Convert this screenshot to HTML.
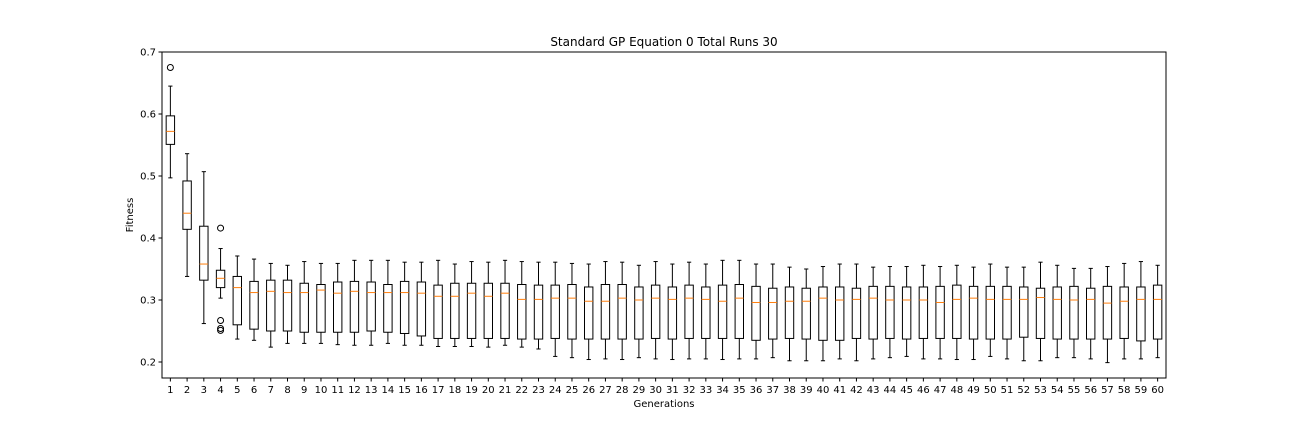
<!DOCTYPE html>
<html><head><meta charset="utf-8"><style>
body{margin:0;background:#fff;}
svg text{font-family:"DejaVu Sans","Liberation Sans",sans-serif;fill:#000;}
</style></head><body>
<svg id="chart" width="1296" height="432" viewBox="0 0 1296 432" xmlns="http://www.w3.org/2000/svg">
<rect width="1296" height="432" fill="#fff"/>
<text x="664" y="46" font-size="12" text-anchor="middle">Standard GP Equation 0 Total Runs 30</text>
<text transform="translate(133,215) rotate(-90)" font-size="10" text-anchor="middle">Fitness</text>
<text x="664" y="407" font-size="10" text-anchor="middle">Generations</text>
<g id="marks"></g>
<g id="axes"></g>
</svg>
<script>
const whiskerHigh=[0.645,0.536,0.507,0.383,0.371,0.366,0.359,0.356,0.362,0.359,0.359,0.364,0.364,0.364,0.361,0.361,0.364,0.358,0.362,0.361,0.364,0.362,0.361,0.361,0.359,0.358,0.362,0.361,0.356,0.362,0.358,0.361,0.358,0.364,0.364,0.358,0.358,0.353,0.350,0.354,0.358,0.358,0.353,0.354,0.354,0.356,0.354,0.356,0.353,0.358,0.353,0.353,0.361,0.356,0.351,0.351,0.354,0.359,0.362,0.356];
const q3Values=[0.597,0.492,0.419,0.348,0.338,0.330,0.332,0.332,0.327,0.325,0.329,0.330,0.329,0.325,0.330,0.329,0.324,0.327,0.327,0.327,0.327,0.325,0.324,0.324,0.325,0.321,0.325,0.325,0.321,0.324,0.321,0.324,0.321,0.324,0.325,0.322,0.319,0.321,0.319,0.321,0.321,0.319,0.322,0.322,0.321,0.321,0.322,0.324,0.322,0.322,0.322,0.321,0.319,0.321,0.322,0.319,0.322,0.321,0.321,0.324];
const medianValues=[0.572,0.440,0.358,0.335,0.320,0.312,0.314,0.312,0.312,0.316,0.311,0.314,0.312,0.312,0.312,0.311,0.306,0.306,0.311,0.306,0.311,0.301,0.301,0.303,0.303,0.298,0.298,0.303,0.300,0.303,0.301,0.303,0.301,0.298,0.303,0.296,0.296,0.298,0.298,0.303,0.300,0.301,0.303,0.300,0.300,0.300,0.296,0.301,0.303,0.301,0.301,0.301,0.304,0.301,0.300,0.301,0.295,0.298,0.301,0.301];
const q1Values=[0.551,0.414,0.332,0.320,0.260,0.253,0.250,0.250,0.248,0.248,0.248,0.248,0.250,0.248,0.246,0.242,0.238,0.238,0.238,0.238,0.238,0.237,0.237,0.238,0.237,0.237,0.237,0.237,0.237,0.238,0.237,0.238,0.238,0.238,0.238,0.235,0.237,0.238,0.237,0.235,0.235,0.238,0.237,0.238,0.237,0.238,0.238,0.238,0.237,0.237,0.237,0.240,0.238,0.237,0.237,0.237,0.237,0.238,0.234,0.237];
const whiskerLow=[0.497,0.338,0.262,0.303,0.237,0.235,0.224,0.230,0.230,0.230,0.228,0.227,0.227,0.230,0.227,0.227,0.225,0.225,0.225,0.224,0.227,0.224,0.221,0.209,0.207,0.204,0.205,0.204,0.207,0.205,0.204,0.205,0.205,0.204,0.205,0.205,0.207,0.202,0.202,0.202,0.205,0.202,0.205,0.207,0.209,0.205,0.205,0.204,0.204,0.209,0.205,0.202,0.202,0.207,0.207,0.205,0.199,0.205,0.205,0.207];
const outlierGen=[1,4,4,4,4];
const outlierValues=[0.675,0.416,0.267,0.254,0.251];
const yTicks=[0.2,0.3,0.4,0.5,0.6,0.7];
const yTickLabels=["0.2","0.3","0.4","0.5","0.6","0.7"];

const L=162,R=1166,T=52,B=378,yMin=0.1742,yMax=0.7,n=60;
const xS=g=>L+(g-0.5)*(R-L)/n;
const yS=v=>T+(yMax-v)/(yMax-yMin)*(B-T);
const NS="http://www.w3.org/2000/svg";
const marks=document.getElementById('marks'),axes=document.getElementById('axes');
function mk(p,tag,a){const e=document.createElementNS(NS,tag);for(const k in a)e.setAttribute(k,a[k]);p.appendChild(e);return e;}
const bw=8.4,cw=4.2;
for(let i=0;i<n;i++){
  const g=i+1,cx=xS(g);
  const grp=mk(marks,'g',{});
  
  
  const st={stroke:'#000','stroke-width':1,fill:'none'};
  mk(grp,'line',Object.assign({x1:cx,x2:cx,y1:yS(whiskerHigh[i]),y2:yS(q3Values[i])},st));
  mk(grp,'line',Object.assign({x1:cx,x2:cx,y1:yS(q1Values[i]),y2:yS(whiskerLow[i])},st));
  mk(grp,'line',Object.assign({x1:cx-cw/2,x2:cx+cw/2,y1:yS(whiskerHigh[i]),y2:yS(whiskerHigh[i])},st));
  mk(grp,'line',Object.assign({x1:cx-cw/2,x2:cx+cw/2,y1:yS(whiskerLow[i]),y2:yS(whiskerLow[i])},st));
  mk(grp,'rect',Object.assign({x:cx-bw/2,y:yS(q3Values[i]),width:bw,height:yS(q1Values[i])-yS(q3Values[i])},st));
  mk(grp,'line',{x1:cx-bw/2,x2:cx+bw/2,y1:yS(medianValues[i]),y2:yS(medianValues[i]),stroke:'#ff7f0e','stroke-width':1});
}
for(let j=0;j<outlierValues.length;j++){
  const c=mk(marks,'circle',{cx:xS(outlierGen[j]),cy:yS(outlierValues[j]),r:3,fill:'none',stroke:'#000','stroke-width':1});
  
  
}
const frame=mk(axes,'rect',{x:L,y:T,width:R-L,height:B-T,fill:'none',stroke:'#000','stroke-width':1});


yTicks.forEach((v,k)=>{
  const y=yS(v);
  mk(axes,'line',{x1:L-3.5,x2:L,y1:y,y2:y,stroke:'#000','stroke-width':1});
  const t=mk(axes,'text',{x:L-6,y:y+3.5,'font-size':10,'text-anchor':'end'});
  t.textContent=yTickLabels[k];
  
  
});
for(let g=1;g<=n;g++){
  const x=xS(g);
  mk(axes,'line',{x1:x,x2:x,y1:B,y2:B+3.5,stroke:'#000','stroke-width':1});
  const t=mk(axes,'text',{x:x,y:B+15,'font-size':10,'text-anchor':'middle'});
  t.textContent=String(g);
  
  
}
</script>
</body></html>
